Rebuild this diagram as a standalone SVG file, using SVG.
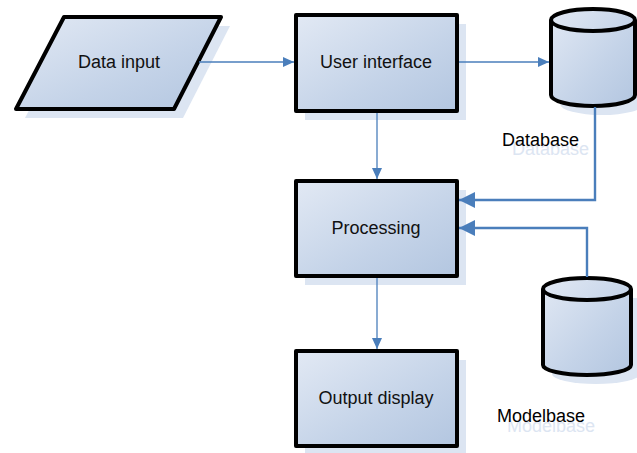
<svg xmlns="http://www.w3.org/2000/svg" width="637" height="453" viewBox="0 0 637 453">
<defs>
<linearGradient id="fillg" x1="0" y1="0" x2="1" y2="1">
<stop offset="0" stop-color="#e2e9f4"/>
<stop offset="0.6" stop-color="#c4d3e8"/>
<stop offset="1" stop-color="#b3c6e0"/>
</linearGradient>
<marker id="arrS" markerUnits="userSpaceOnUse" markerWidth="11" markerHeight="10" refX="11" refY="5" orient="auto">
<path d="M0,0 L11,5 L0,10 Z" fill="#4a7ebb"/>
</marker>
<marker id="arrL" markerUnits="userSpaceOnUse" markerWidth="16" markerHeight="16" refX="16" refY="8" orient="auto">
<path d="M0,0 L16,8 L0,16 Z" fill="#4a7ebb"/>
</marker>
</defs>
<style>
.shadow{fill:#dce5f2;stroke:none}
.shape{fill:url(#fillg);stroke:#000;stroke-width:4;stroke-linejoin:round}
.rim{fill:none;stroke:#000;stroke-width:4}
.lbl{font-family:"Liberation Sans",Arial,sans-serif;font-size:18px;fill:#111;text-anchor:middle}
.cap{font-family:"Liberation Sans",Arial,sans-serif;font-size:18px;fill:#000}
.capsh{font-family:"Liberation Sans",Arial,sans-serif;font-size:18px;fill:#dce5f2}
.thin{fill:none;stroke:#4a7ebb;stroke-width:1.3}
.thick{fill:none;stroke:#4a7ebb;stroke-width:2.4}
</style>
<g id="data-input">
<path class="shadow" d="M73,26 L230,26 L183,118 L25,118 Z"/>
<path class="shape" d="M64,17 L221,17 L174,109 L16,109 Z"/>
<text class="lbl" x="119" y="68">Data input</text>
</g>
<g id="user-interface">
<rect class="shadow" x="305" y="24" width="161" height="96"/>
<rect class="shape" x="296" y="15" width="161" height="96"/>
<text class="lbl" x="376" y="68">User interface</text>
</g>
<g id="database">
<path class="shadow" d="M560,29 L560,104 A42,11 0 0 0 644,104 L644,29 Z"/>
<path class="shape" d="M551,20 L551,95 A42,11 0 0 0 635,95 L635,20 A42,11 0 0 0 551,20 Z"/>
<path class="rim" d="M551,20 A42,11 0 0 0 635,20"/>
<text class="capsh" x="512" y="155">Database</text>
<text class="cap" x="502" y="146">Database</text>
</g>
<g id="processing">
<rect class="shadow" x="305" y="190" width="161" height="95"/>
<rect class="shape" x="296" y="181" width="161" height="95"/>
<text class="lbl" x="376" y="234">Processing</text>
</g>
<g id="modelbase">
<path class="shadow" d="M552,298 L552,374 A44,10 0 0 0 640,374 L640,298 Z"/>
<path class="shape" d="M543,289 L543,365 A44,10 0 0 0 631,365 L631,289 A44,11 0 0 0 543,289 Z"/>
<path class="rim" d="M543,289 A44,11 0 0 0 631,289"/>
<text class="capsh" x="507" y="432">Modelbase</text>
<text class="cap" x="497" y="422">Modelbase</text>
</g>
<g id="output-display">
<rect class="shadow" x="305" y="360" width="161" height="95"/>
<rect class="shape" x="296" y="351" width="161" height="95"/>
<text class="lbl" x="376" y="404">Output display</text>
</g>
<g id="connectors">
<path class="thin" d="M199,62 L294,62" marker-end="url(#arrS)"/>
<path class="thin" d="M459,62 L549,62" marker-end="url(#arrS)"/>
<path class="thin" d="M377,113 L377,179" marker-end="url(#arrS)"/>
<path class="thin" d="M377,278 L377,349" marker-end="url(#arrS)"/>
<path class="thick" d="M595,107 L595,200 L459,200" marker-end="url(#arrL)"/>
<path class="thick" d="M587,277 L587,228 L459,228" marker-end="url(#arrL)"/>
</g>
</svg>
